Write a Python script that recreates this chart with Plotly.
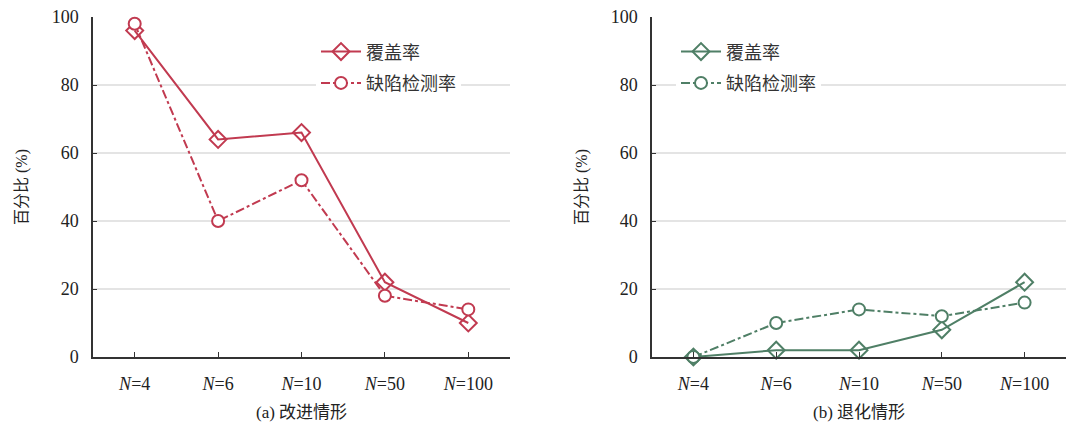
import plotly.graph_objects as go

categories = ["N=4", "N=6", "N=10", "N=50", "N=100"]
tick_labels = ["<i>N</i>=4", "<i>N</i>=6", "<i>N</i>=10", "<i>N</i>=50", "<i>N</i>=100"]

improve_coverage = [96, 64, 66, 22, 10]
improve_detection = [98, 40, 52, 18, 14]
degrade_coverage = [0, 2, 2, 8, 22]
degrade_detection = [0, 10, 14, 12, 16]

series_names = ["覆盖率", "缺陷检测率"]
panel_titles = ["(a) 改进情形", "(b) 退化情形"]
y_title = "百分比 (%)"

RED = "#c13a50"
GREEN = "#4f7f66"
SERIF = "Times New Roman, Liberation Serif, serif"
MIXED = "Times New Roman, Liberation Serif, Noto Sans CJK SC"
CJK = "Noto Sans CJK SC"

fig = go.Figure()


def add_pair(cov, det, color, xa, ya, legend, tag):
    fig.add_trace(go.Scatter(
        x=categories, y=cov, name=series_names[0], xaxis=xa, yaxis=ya, legend=legend,
        legendgroup=tag + "cov",
        mode="lines+markers", cliponaxis=False,
        line=dict(color=color, width=2, dash="solid"),
        marker=dict(symbol="diamond-open", size=13, color=color, line=dict(width=2)),
    ))
    fig.add_trace(go.Scatter(
        x=categories, y=det, name=series_names[1], xaxis=xa, yaxis=ya, legend=legend,
        legendgroup=tag + "det",
        mode="lines+markers", cliponaxis=False,
        line=dict(color=color, width=2, dash="dashdot"),
        marker=dict(symbol="circle", size=12, color="white", line=dict(width=2, color=color)),
    ))


add_pair(improve_coverage, improve_detection, RED, "x", "y", "legend", "a")
add_pair(degrade_coverage, degrade_detection, GREEN, "x2", "y2", "legend2", "b")


def x_axis(domain, anchor):
    return dict(
        domain=domain, anchor=anchor,
        type="category", categoryorder="array", categoryarray=categories,
        tickvals=categories, ticktext=tick_labels, range=[-0.5, 4.5],
        showgrid=False, showline=True, linecolor="#333", linewidth=1.5,
        ticks="inside", ticklen=5, tickcolor="#333", tickwidth=1,
        tickfont=dict(family=SERIF, size=18, color="#222"), ticklabelstandoff=10,
        zeroline=False,
    )


def y_axis(anchor):
    return dict(
        domain=[0, 1], anchor=anchor,
        range=[0, 100], tickvals=[0, 20, 40, 60, 80, 100],
        showgrid=True, gridcolor="#e4e4e4", gridwidth=1.5,
        showline=True, linecolor="#333", linewidth=1.5,
        ticks="inside", ticklen=4, tickcolor="#333",
        tickfont=dict(family=SERIF, size=18, color="#222"), ticklabelstandoff=9,
        zeroline=False,
    )


def legend_box(x):
    return dict(
        x=x, y=0.952, xref="paper", yref="paper", xanchor="left", yanchor="top",
        bgcolor="white", font=dict(family=CJK, size=18, color="#333"),
        itemwidth=40, tracegroupgap=5,
    )


fig.update_layout(
    width=1067, height=427,
    margin=dict(l=0, r=0, t=17, b=70),
    paper_bgcolor="white", plot_bgcolor="white",
    font=dict(family=SERIF, size=17, color="#222"),
    xaxis=x_axis([93 / 1067, 510 / 1067], "y"),
    yaxis=y_axis("x"),
    xaxis2=x_axis([652 / 1067, 1066 / 1067], "y2"),
    yaxis2=y_axis("x2"),
    legend=legend_box(316 / 1067),
    legend2=legend_box(676 / 1067),
    showlegend=True,
)

annotations = []
for cx, title in zip([(93 + 510) / 2, (652 + 1066) / 2], panel_titles):
    annotations.append(dict(
        text=title, x=cx / 1067, y=-55 / 340, xref="paper", yref="paper",
        xanchor="center", yanchor="middle", showarrow=False,
        font=dict(family=MIXED, size=17, color="#222"),
    ))
for cx in [22, 582]:
    annotations.append(dict(
        text=y_title, x=cx / 1067, y=0.5, xref="paper", yref="paper",
        xanchor="center", yanchor="middle", showarrow=False, textangle=-90,
        font=dict(family=MIXED, size=16, color="#222"),
    ))
fig.update_layout(annotations=annotations)

fig.write_html("out.html")
